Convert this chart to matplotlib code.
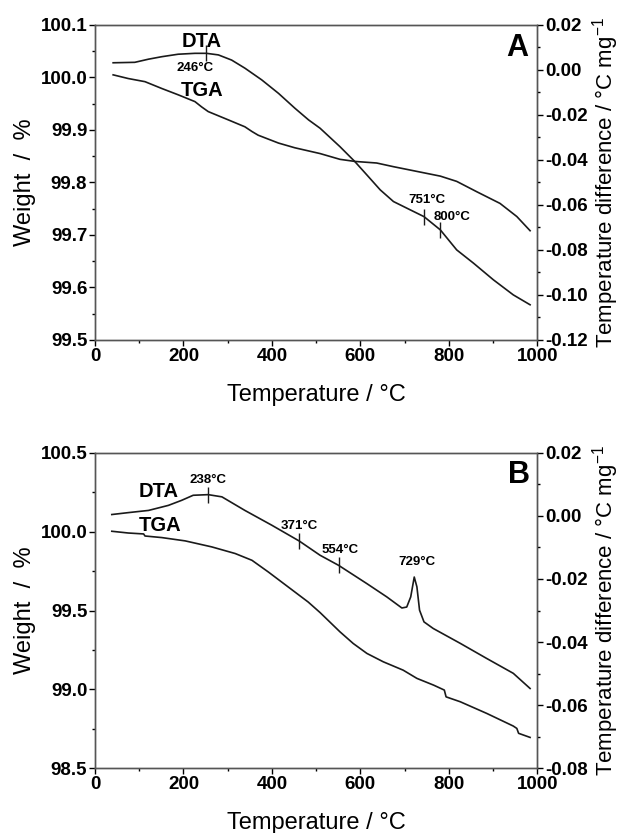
import numpy as np
import matplotlib
matplotlib.use('Agg')
import matplotlib.pyplot as plt
from matplotlib.ticker import MultipleLocator, FormatStrFormatter

plt.rcParams['font.family'] = ['Liberation Sans', 'DejaVu Sans']
plt.rcParams['mathtext.fontset'] = 'custom'
plt.rcParams['mathtext.rm'] = 'Liberation Sans'
plt.rcParams['mathtext.it'] = 'Liberation Sans:italic'
plt.rcParams['mathtext.bf'] = 'Liberation Sans:bold'

# ---- panel A data ----
tga_a_t = [41, 75, 113, 151, 188, 226, 241, 256, 302, 339, 355, 369, 415, 452,
           509, 554, 588, 637, 675, 728, 781, 818, 864, 916, 954, 984]
tga_a_w = [100.005, 99.998, 99.992, 99.979, 99.967, 99.954, 99.944, 99.935, 99.919,
           99.906, 99.897, 99.890, 99.875, 99.866, 99.855, 99.844, 99.840, 99.837,
           99.830, 99.821, 99.812, 99.802, 99.782, 99.760, 99.735, 99.708]
dta_a_t = [41, 90, 121, 151, 188, 226, 252, 279, 309, 339, 377, 415, 452, 483,
           509, 554, 588, 615, 645, 675, 713, 744, 781, 818, 856, 901, 946, 984]
dta_a_d = [0.0032, 0.0034, 0.0048, 0.0059, 0.0070, 0.0074, 0.0074, 0.0067, 0.0044,
           0.0008, -0.0044, -0.0104, -0.0170, -0.0222, -0.0259, -0.0341, -0.0408,
           -0.0467, -0.0533, -0.0585, -0.0622, -0.0652, -0.0711, -0.0800, -0.0859,
           -0.0933, -0.1000, -0.1044]
marks_a = [252, 744, 781]

# ---- panel B data ----
tga_b_t = [38, 75, 110, 113, 151, 204, 264, 317, 355, 392, 437, 482, 509, 554,
           584, 615, 652, 697, 728, 766, 790, 794, 826, 886, 946, 954, 958, 984]
tga_b_w = [100.002, 99.991, 99.985, 99.972, 99.962, 99.941, 99.903, 99.861, 99.818,
           99.744, 99.649, 99.554, 99.487, 99.365, 99.291, 99.228, 99.175, 99.122,
           99.070, 99.027, 98.996, 98.953, 98.922, 98.848, 98.768, 98.753, 98.722,
           98.696]
dta_b_t = [38, 75, 121, 166, 196, 222, 256, 287, 339, 400, 462, 509, 551, 615,
           660, 694, 705, 714, 722, 728, 734, 744, 765, 826, 886, 946, 984]
dta_b_d = [0.0004, 0.0010, 0.0017, 0.0033, 0.0049, 0.0065, 0.0067, 0.0060, 0.0017,
           -0.0030, -0.0080, -0.0125, -0.0157, -0.0215, -0.0257, -0.0292, -0.0289,
           -0.0257, -0.0194, -0.0225, -0.0299, -0.0336, -0.0357, -0.0404, -0.0452,
           -0.0499, -0.0547]
marks_b = [256, 462, 551]

tick_size = 13.5
label_size = 17
lc = '#1a1a1a'


def style_axes(ax, ax2, wmaj, wmin, dmaj, dmin):
    ax.set_xlim(0, 1000)
    ax.xaxis.set_major_locator(MultipleLocator(200))
    ax.xaxis.set_minor_locator(MultipleLocator(100))
    ax.yaxis.set_major_locator(MultipleLocator(wmaj))
    ax.yaxis.set_minor_locator(MultipleLocator(wmin))
    ax.yaxis.set_major_formatter(FormatStrFormatter('%.1f'))
    ax2.yaxis.set_major_locator(MultipleLocator(dmaj))
    ax2.yaxis.set_minor_locator(MultipleLocator(dmin))
    ax2.yaxis.set_major_formatter(FormatStrFormatter('%.2f'))
    for a in (ax, ax2):
        a.tick_params(which='major', direction='out', length=4, width=1, pad=1.5)
        a.tick_params(which='minor', direction='out', length=2.5, width=1)
        for lab in a.get_xticklabels() + a.get_yticklabels():
            lab.set_fontsize(tick_size)
            lab.set_fontweight('bold')
        for s in a.spines.values():
            s.set_color('#555555')
            s.set_linewidth(1.0)
    ax.set_xlabel('Temperature / °C', fontsize=label_size, labelpad=14)
    ax.set_ylabel('Weight  /  %', fontsize=label_size, labelpad=3)
    ax2.set_ylabel('Temperature difference / °C mg$^{-1}$', fontsize=16, labelpad=2)


def note(ax, x, y, s, size=9.5):
    ax.text(x, y, s, fontsize=size, fontweight='bold', ha='center', va='center')


fig = plt.figure(figsize=(6.21, 8.33), dpi=100)

# ---- panel A ----
axA = fig.add_axes([0.153, 0.592, 0.712, 0.378])
axA2 = axA.twinx()
axA.set_ylim(99.5, 100.1)
axA2.set_ylim(-0.12, 0.02)
axA.plot(tga_a_t, tga_a_w, color=lc, lw=1.2)
axA2.plot(dta_a_t, dta_a_d, color=lc, lw=1.2)
axA2.plot(marks_a, np.interp(marks_a, dta_a_t, dta_a_d), linestyle='none',
          marker='|', markersize=11, markeredgewidth=1.0, color=lc)
style_axes(axA, axA2, 0.1, 0.05, 0.02, 0.01)
note(axA, 241, 100.068, 'DTA', 14.5)
note(axA, 226, 100.0175, '246°C')
note(axA, 243, 99.976, 'TGA', 14.5)
note(axA, 750, 99.767, '751°C')
note(axA, 807, 99.735, '800°C')
note(axA, 955, 100.056, 'A', 22)

# ---- panel B ----
axB = fig.add_axes([0.153, 0.0776, 0.712, 0.379])
axB2 = axB.twinx()
axB.set_ylim(98.5, 100.5)
axB2.set_ylim(-0.08, 0.02)
axB.plot(tga_b_t, tga_b_w, color=lc, lw=1.2)
axB2.plot(dta_b_t, dta_b_d, color=lc, lw=1.2)
axB2.plot(marks_b, np.interp(marks_b, dta_b_t, dta_b_d), linestyle='none',
          marker='|', markersize=11, markeredgewidth=1.0, color=lc)
style_axes(axB, axB2, 0.5, 0.25, 0.02, 0.01)
note(axB, 143, 100.251, 'DTA', 14.5)
note(axB, 147, 100.040, 'TGA', 14.5)
note(axB, 256, 100.325, '238°C')
note(axB, 462, 100.034, '371°C')
note(axB, 554, 99.886, '554°C')
note(axB, 728, 99.808, '729°C')
note(axB, 959, 100.357, 'B', 22)

fig.savefig('out.png', dpi=100)
